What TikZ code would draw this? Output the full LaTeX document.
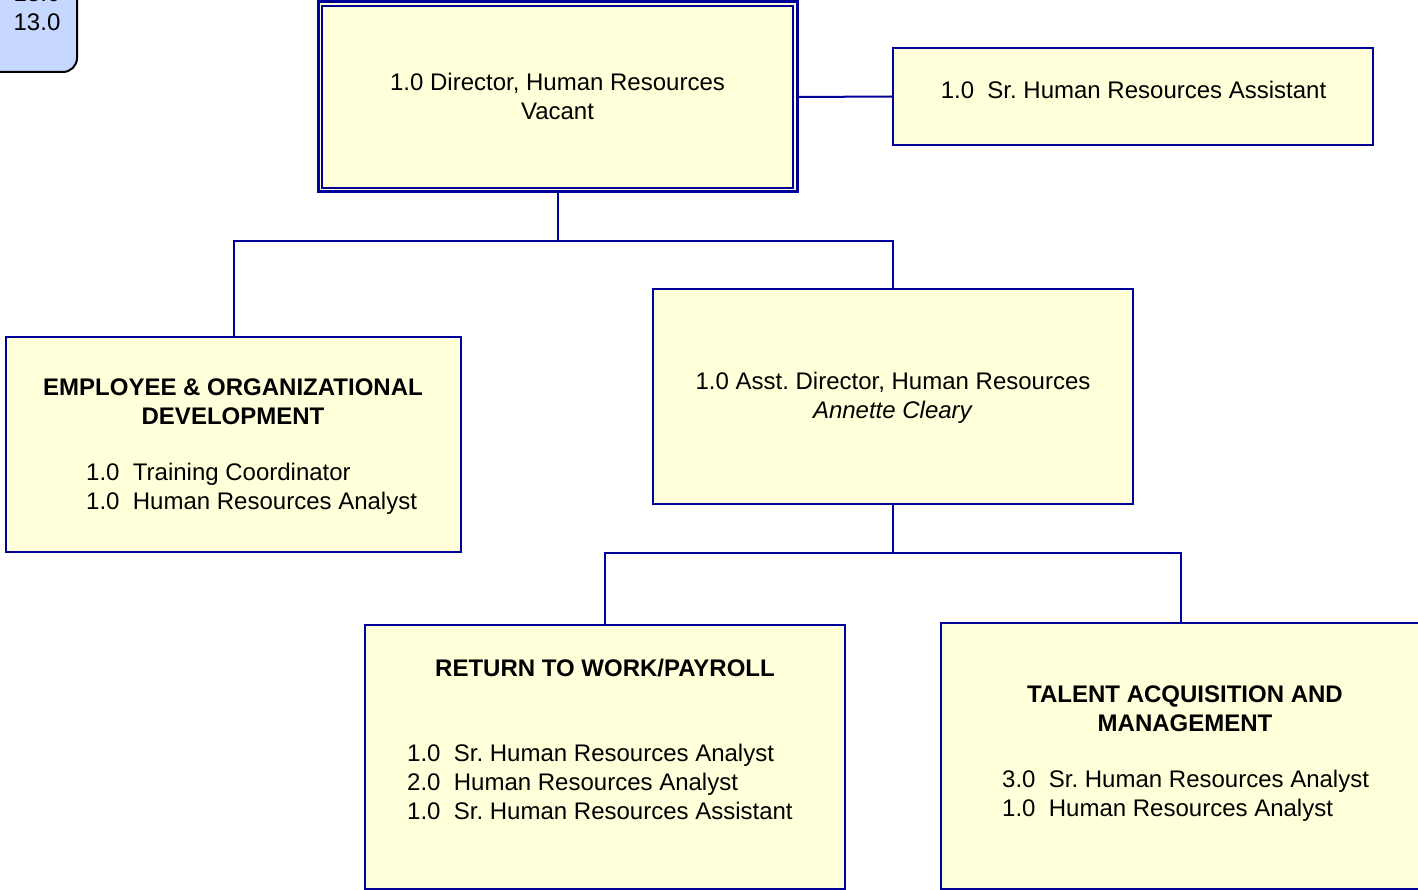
\documentclass[tikz,border=0pt]{standalone}
\usepackage{fontspec}
\setmainfont{Liberation Sans}
\usepackage{xcolor}
\usetikzlibrary{positioning, calc}
\definecolor{boxnavy}{RGB}{0,0,153}
\definecolor{boxcream}{RGB}{255,255,217}
\definecolor{boxblue}{RGB}{198,216,255}
\newcommand{\orgfont}{\fontsize{24}{29}\selectfont}
\frenchspacing

\begin{document}
\begin{tikzpicture}[x=1pt, y=-1pt, every node/.style={font=\orgfont}]

	\tikzstyle{unitbox}=[rectangle, draw=boxnavy, line width=2pt, fill=boxcream, inner sep=0pt]
	\tikzstyle{orgline}=[draw=boxnavy, line width=2pt]
	\tikzstyle{unittext}=[align=center, inner sep=0pt]
	\tikzstyle{itemtext}=[align=left, anchor=west, inner sep=0pt]

	\useasboundingbox (0,0) rectangle (1418,890);

	% total FTE tab in the corner
	\draw [fill=boxblue, draw=black, line width=2pt, rounded corners=14pt] (-40,-60) rectangle (77,72);
	\node (fte) at (37,8) [unittext] {13.0\\13.0};

	\node (dir) at (557.5,97) [unitbox, line width=3pt, minimum width=479pt, minimum height=190pt] {};
	\draw [orgline] ([xshift=5.5pt,yshift=-5.5pt]dir.north west) rectangle ([xshift=-5.5pt,yshift=5.5pt]dir.south east);
	\node (dirtext) at (dir.center) [unittext, yshift=1pt] {1.0 Director, Human Resources\\Vacant};

	\node (sras) at (1133,96.5) [unitbox, minimum width=480pt, minimum height=97pt] {};
	\node [unittext] at (1133.5,90) {1.0\ \ Sr. Human Resources Assistant};

	\node (eod) at (233.5,444.5) [unitbox, minimum width=455pt, minimum height=215pt] {};
	\node [unittext, font=\orgfont\bfseries] at (233,401.5) {EMPLOYEE \& ORGANIZATIONAL\\DEVELOPMENT};
	\node [itemtext] at (86,489) {1.0\ \ Training Coordinator\\1.0\ \ Human Resources Analyst};

	\node (asst) at (893,396.5) [unitbox, minimum width=480pt, minimum height=215pt] {};
	\node [unittext] at (893,397.5) {1.0 Asst. Director, Human Resources\\\textit{Annette Cleary}};

	\node (rtw) at (605,757) [unitbox, minimum width=480pt, minimum height=264pt] {};
	\node [unittext, font=\orgfont\bfseries] at (605,668) {RETURN TO WORK/PAYROLL};
	\node [itemtext] at (407,782) {1.0\ \ Sr. Human Resources Analyst\\2.0\ \ Human Resources Analyst\\1.0\ \ Sr. Human Resources Assistant};

	\node (talent) at (1181,756) [unitbox, minimum width=480pt, minimum height=266pt] {};
	\node [unittext, font=\orgfont\bfseries] at (1185,708.5) {TALENT ACQUISITION AND\\MANAGEMENT};
	\node [itemtext] at (1002,796) {3.0\ \ Sr. Human Resources Analyst\\1.0\ \ Human Resources Analyst};

	% reporting lines
	\coordinate (split1) at (557.5,241);
	\coordinate (split2) at (893,553);
	\draw [orgline] (dir.east) -- (sras.west);
	\draw [orgline] (dir.south) -- (split1);
	\draw [orgline] (eod.north) |- (split1) -| (asst.north);
	\draw [orgline] (asst.south) -- (split2);
	\draw [orgline] (rtw.north) |- (split2) -| (talent.north);
\end{tikzpicture}
\end{document}
